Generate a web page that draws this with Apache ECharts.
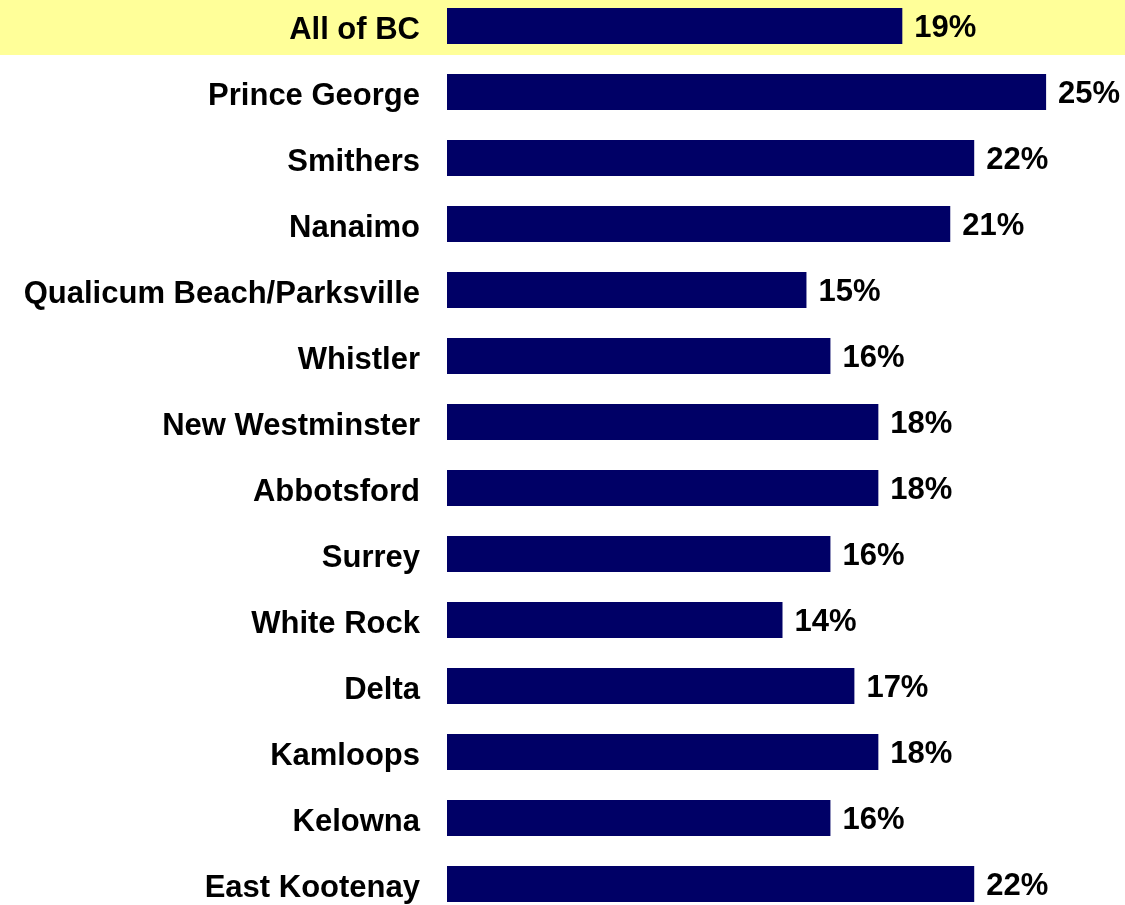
<!DOCTYPE html>
<html>
<head>
<meta charset="utf-8">
<script src="https://cdn.jsdelivr.net/npm/echarts@6/dist/echarts.min.js"></script>
<style>
	html, body { margin: 0; padding: 0; background: #ffffff; }
	#chart { width: 1125px; height: 905px; }
</style>
</head>
<body>
<div id="chart"></div>
<script>
const regions = [
	'All of BC', 'Prince George', 'Smithers', 'Nanaimo',
	'Qualicum Beach/Parksville', 'Whistler', 'New Westminster',
	'Abbotsford', 'Surrey', 'White Rock', 'Delta', 'Kamloops',
	'Kelowna', 'East Kootenay'
];
const percents = [19, 25, 22, 21, 15, 16, 18, 18, 16, 14, 17, 18, 16, 22];
const highlighted = 'All of BC';

var chart = echarts.init(document.getElementById('chart'));

const fontFamily = '"Liberation Sans", Arial, Helvetica, sans-serif';

var option = {
	animation: false,
	grid: {
		left: 447,
		right: 7,
		top: -7,
		bottom: -12,
		outerBoundsMode: 'none'
	},
	xAxis: {
		type: 'value',
		min: 0,
		max: 28,
		show: false
	},
	yAxis: {
		type: 'category',
		inverse: true,
		data: regions,
		axisLine: { show: false },
		axisTick: { show: false },
		axisLabel: {
			margin: 27,
			formatter: '{t|{value}}',
			rich: {
				t: {
					padding: [8, 0, 0, 0],
					color: '#000000',
					fontFamily: fontFamily,
					fontWeight: 'bold',
					fontSize: 31
				}
			}
		}
	},
	series: [
		{
			type: 'bar',
			data: percents,
			barWidth: 36,
			itemStyle: {
				color: '#000066'
			},
			label: {
				show: true,
				position: 'right',
				distance: 12,
				offset: [0, 2],
				formatter: '{c}%',
				color: '#000000',
				fontFamily: fontFamily,
				fontWeight: 'bold',
				fontSize: 31
			}
		}
	]
};

chart.setOption(option);

// yellow band behind the highlighted row, sized from the category axis
let rowY = chart.convertToPixel({ yAxisIndex: 0 }, highlighted);
let rowStep = chart.convertToPixel({ yAxisIndex: 0 }, regions[1]) - rowY;
let bandH = rowStep * 0.88;
chart.setOption({
	graphic: [
		{
			type: 'rect',
			z: -10,
			silent: true,
			shape: { x: 0, y: rowY - bandH / 2, width: 1125, height: bandH },
			style: { fill: '#ffff99' }
		}
	]
});
</script>
</body>
</html>
